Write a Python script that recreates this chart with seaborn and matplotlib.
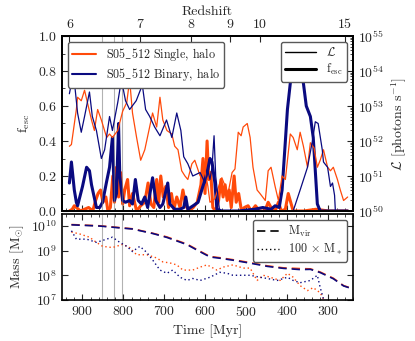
import numpy as np
import matplotlib.pyplot as plt
from matplotlib.lines import Line2D
from matplotlib.ticker import MultipleLocator
import seaborn as sns

sns.set_style("ticks", {"xtick.direction": "in", "ytick.direction": "in"})
plt.rcParams["font.family"] = ["cmr10", "DejaVu Serif"]
plt.rcParams["mathtext.fontset"] = "cm"
plt.rcParams["axes.formatter.use_mathtext"] = True
plt.rcParams["axes.unicode_minus"] = False

# --- data ---
# luminosity, log10 [photons/s]
t_L_bin = [932, 922, 912, 903, 895, 883, 876, 866, 854, 846, 834, 827, 814, 805, 795, 785,
           769, 754, 746, 736, 724, 711, 695, 682, 670, 660, 653, 643, 631, 613, 601, 594,
           589, 584, 579, 575, 568, 560, 540, 500, 450, 400, 386, 369, 351, 339, 332, 325,
           315, 312, 302, 295, 290, 285, 283, 278, 260]
logL_bin = [53.35, 53.95, 52.8, 52.25, 52.7, 53.4, 52.7, 52.3, 51.5, 51.75, 52.7, 52.3, 53.1,
            53.75, 53.15, 52.9, 53.15, 53.6, 52.9, 52.7, 52.4, 52.15, 52.6, 52.1, 52.8, 52.3,
            51.55, 51.35, 51.0, 51.1, 50.8, 51.15, 50.9, 51.25, 52.15, 51.0, 50.25, 49.5, 49.0,
            49.0, 49.0, 49.0, 50.0, 50.6, 51.25, 52.0, 52.55, 52.5, 51.75, 51.4, 51.25, 50.7,
            50.8, 50.45, 50.0, 49.5, 49.0]

t_L_sin = [932, 927, 915, 912, 903, 895, 888, 878, 871, 863, 854, 841, 834, 827, 814, 802,
           792, 785, 778, 768, 758, 748, 738, 729, 719, 711, 704, 694, 682, 675, 667, 658,
           650, 643, 633, 626, 613, 601, 594, 589, 577, 565, 560, 545, 535, 528, 520, 513,
           508, 498, 491, 484, 474, 467, 454, 447, 440, 430, 422, 413, 405, 393, 386, 376,
           369, 361, 351, 344, 335, 327, 320, 312, 302, 295, 288, 278, 271, 263, 253]
logL_sin = [51.85, 51.9, 52.9, 53.25, 53.15, 53.45, 53.1, 52.6, 52.3, 52.9, 52.6, 52.1, 52.2,
            52.1, 52.3, 52.85, 53.1, 53.75, 52.8, 52.1, 51.45, 51.75, 52.3, 52.8, 52.4, 53.25,
            52.6, 52.3, 52.2, 51.85, 51.75, 51.15, 51.0, 50.9, 51.35, 51.45, 51.0, 51.15, 50.7,
            50.25, 50.35, 50.8, 50.95, 50.5, 51.1, 51.2, 52.25, 52.15, 52.4, 52.5, 52.1, 51.25,
            50.6, 50.5, 50.3, 51.15, 51.25, 50.7, 50.3, 51.0, 50.9, 52.2, 52.1, 51.75, 52.25,
            51.85, 51.25, 51.95, 51.8, 51.25, 51.45, 51.75, 51.25, 51.15, 51.25, 50.9, 50.6,
            50.3, 50.4]

# escape fractions
t_f_bin = [932, 927, 920, 915, 912, 900, 890, 883, 878, 866, 858, 851, 841, 834, 827, 822,
           817, 812, 809, 802, 795, 785, 778, 771, 764, 756, 748, 741, 729, 721, 711, 704,
           692, 687, 675, 662, 653, 648, 643, 630, 618, 609, 601, 594, 589, 584, 577, 572,
           560, 540, 520, 500, 480, 460, 440, 430, 420, 413, 405, 400, 393, 386, 376, 369,
           361, 354, 344, 337, 332, 327, 320, 300, 253]
f_bin = [0.16, 0.28, 0.12, 0.05, 0.03, 0.14, 0.25, 0.23, 0.15, 0.02, 0.02, 0.05, 0.17, 0.25,
         0.42, 0.06, 0.10, 0.50, 0.20, 0.06, 0.05, 0.06, 0.04, 0.18, 0.06, 0.04, 0.08, 0.02,
         0.19, 0.06, 0.02, 0.04, 0.16, 0.04, 0.01, 0.01, 0.02, 0.08, 0.01, 0.03, 0.05, 0.12,
         0.18, 0.24, 0.30, 0.28, 0.16, 0.01, 0.0, 0.0, 0.0, 0.005, 0.01, 0.02, 0.01, 0.03,
         0.02, 0.12, 0.40, 0.58, 0.73, 0.79, 0.82, 0.79, 0.73, 0.60, 0.54, 0.42, 0.23, 0.04,
         0.0, 0.0, 0.0]

t_f_sin = [932, 925, 920, 915, 905, 895, 885, 875, 868, 862, 856, 850, 843, 838, 832, 826,
           822, 817, 812, 807, 802, 797, 790, 785, 778, 768, 758, 748, 740, 733, 726, 719,
           714, 709, 703, 697, 690, 683, 677, 670, 662, 655, 648, 640, 630, 620, 611, 606,
           601, 596, 592, 587, 582, 575, 568, 562, 557, 552, 547, 542, 537, 530, 525, 519,
           512, 505, 496, 488, 478, 468, 455, 447, 440, 430, 422, 415, 405, 398, 392, 386,
           360, 330, 300, 253]
f_sin = [0.0, 0.01, 0.03, 0.02, 0.0, 0.01, 0.02, 0.0, 0.06, 0.10, 0.12, 0.05, 0.08, 0.0,
         0.02, 0.20, 0.05, 0.25, 0.08, 0.22, 0.04, 0.12, 0.18, 0.03, 0.10, 0.0, 0.03, 0.05,
         0.16, 0.04, 0.02, 0.18, 0.05, 0.20, 0.08, 0.14, 0.02, 0.10, 0.01, 0.08, 0.02, 0.12,
         0.03, 0.0, 0.02, 0.05, 0.15, 0.30, 0.10, 0.40, 0.18, 0.22, 0.02, 0.0, 0.06, 0.18,
         0.08, 0.15, 0.06, 0.12, 0.02, 0.20, 0.05, 0.10, 0.0, 0.02, 0.03, 0.0, 0.03, 0.0, 0.0,
         0.05, 0.02, 0.0, 0.05, 0.0, 0.01, 0.10, 0.05, 0.0, 0.0, 0.01, 0.0, 0.0]

# masses, log10 [Msun]
t_mvir = [927, 858, 778, 729, 694, 645, 613, 589, 565, 533, 491, 449, 410, 369, 344, 320,
          288, 263, 241]
mvir_sin = [10.05, 10.0, 9.88, 9.7, 9.55, 9.26, 8.97, 8.76, 8.71, 8.63, 8.51, 8.38, 8.3, 8.27,
            8.26, 8.13, 7.88, 7.58, 7.46]
mvir_bin = [10.04, 9.99, 9.87, 9.69, 9.53, 9.24, 8.95, 8.74, 8.69, 8.61, 8.49, 8.36, 8.28,
            8.23, 8.24, 8.11, 7.86, 7.57, 7.45]

t_ms_bin = [927, 915, 890, 866, 841, 827, 809, 792, 778, 760, 743, 729, 711, 694, 680, 662,
            645, 631, 613, 589, 565, 547, 533, 491, 467, 449, 425, 400, 386, 369, 344, 327,
            320, 312, 305]
ms_bin = [9.8, 9.46, 9.46, 9.33, 9.46, 9.54, 9.33, 9.17, 8.96, 9.17, 8.92, 8.62, 8.21, 8.08,
          8.21, 7.92, 7.79, 7.87, 7.79, 7.92, 8.12, 8.08, 8.0, 8.0, 7.92, 7.87, 7.79, 7.92,
          7.79, 7.7, 7.79, 8.0, 7.5, 7.04, 6.8]
t_ms_sin = [927, 907, 883, 866, 851, 827, 802, 785, 768, 743, 719, 704, 687, 670, 655, 631,
            613, 596, 572, 557, 533, 508, 491, 474, 459, 442, 418, 400, 386, 369, 351, 337,
            320, 312, 305]
ms_sin = [9.75, 9.67, 9.54, 9.33, 9.17, 9.12, 9.25, 9.12, 8.83, 8.83, 8.7, 8.54, 8.5, 8.42,
          8.21, 8.21, 8.33, 8.42, 8.21, 8.33, 8.42, 8.29, 8.29, 7.79, 8.0, 7.92, 7.79, 8.08,
          7.92, 7.58, 7.38, 7.5, 7.29, 7.04, 6.8]

vlines_t = [853, 824, 804]
z_labels = ["6", "7", "8", "9", "10", "15"]
z_times = [932, 760, 635, 541, 467, 260]

orange = "#ff4a0a"
navy = "#0a0a80"

fig = plt.figure(figsize=(4.15, 3.41), dpi=100)
ax = fig.add_axes([62 / 415, 130 / 341, 291 / 415, 175 / 341])
axb = fig.add_axes([62 / 415, 41 / 341, 291 / 415, 86 / 341])

# top panel: escape fraction (thick)
sns.lineplot(x=t_f_sin, y=f_sin, ax=ax, color=orange, lw=2.2, sort=False)
sns.lineplot(x=t_f_bin, y=f_bin, ax=ax, color=navy, lw=2.2, sort=False)
ax.set_ylim(0, 1)
ax.set_xlim(950, 240)
ax.yaxis.set_major_locator(MultipleLocator(0.2))
ax.yaxis.set_minor_locator(MultipleLocator(0.1))
ax.xaxis.set_major_locator(MultipleLocator(100))
ax.xaxis.set_minor_locator(MultipleLocator(20))
ax.tick_params(labelbottom=False)
ax.set_ylabel(r"f$_{\rm esc}$", fontsize=10)
ax.set_xlabel("")

# luminosity (thin) on twin axis
axL = ax.twinx()
sns.lineplot(x=t_L_sin, y=10.0 ** np.array(logL_sin), ax=axL, color=orange, lw=0.9, sort=False)
sns.lineplot(x=t_L_bin, y=10.0 ** np.array(logL_bin), ax=axL, color=navy, lw=0.9, sort=False)
axL.set_yscale("log")
axL.set_ylim(1e50, 1e55)
axL.set_ylabel(r"$\mathcal{L}$ [photons s$^{-1}$]", fontsize=10)

# redshift axis on top
axZ = ax.twiny()
axZ.set_xlim(950, 240)
axZ.set_xticks(z_times)
axZ.set_xticklabels(z_labels)
axZ.set_xlabel("Redshift", fontsize=10, labelpad=3)

for t in vlines_t:
    ax.axvline(t, color="gray", lw=0.8, alpha=0.6)
    axb.axvline(t, color="gray", lw=0.8, alpha=0.6)

leg_kw = dict(fontsize=8.7, edgecolor="0.35", framealpha=1, fancybox=True,
              labelspacing=0.25, borderpad=0.35)
h1 = [Line2D([], [], color=orange, lw=1.5), Line2D([], [], color=navy, lw=1.5)]
leg1 = axZ.legend(h1, [r"S05$\_$512 Single, halo", r"S05$\_$512 Binary, halo"],
                  loc="upper left", **leg_kw)
axZ.add_artist(leg1)
h2 = [Line2D([], [], color="k", lw=1), Line2D([], [], color="k", lw=2.2)]
axZ.legend(h2, [r"$\mathcal{L}$", r"f$_{\rm esc}$"], loc="upper right", handlelength=2.6, **leg_kw)

# bottom panel: masses
dash = (0, (5, 3))
dot = (0, (1, 2))
sns.lineplot(x=t_mvir, y=10.0 ** np.array(mvir_sin), ax=axb, color=orange, lw=1.2, linestyle=dash, sort=False)
sns.lineplot(x=t_mvir, y=10.0 ** np.array(mvir_bin), ax=axb, color=navy, lw=1.2, linestyle=dash, sort=False)
sns.lineplot(x=t_ms_sin, y=10.0 ** np.array(ms_sin), ax=axb, color=orange, lw=1.0, linestyle=dot, sort=False)
sns.lineplot(x=t_ms_bin, y=10.0 ** np.array(ms_bin), ax=axb, color=navy, lw=1.0, linestyle=dot, sort=False)
axb.set_yscale("log")
axb.set_ylim(1e7, 3e10)
axb.set_yticks([1e7, 1e8, 1e9, 1e10])
axb.set_xlim(950, 240)
axb.xaxis.set_major_locator(MultipleLocator(100))
axb.xaxis.set_minor_locator(MultipleLocator(20))
axb.set_xlabel("Time [Myr]", fontsize=10)
axb.set_ylabel(r"Mass [M$_{\odot}$]", fontsize=10)
h3 = [Line2D([], [], color="k", lw=1.2, linestyle=dash), Line2D([], [], color="k", lw=1.0, linestyle=dot)]
axb.legend(h3, [r"M$_{\rm vir}$", r"100 $\times$ M$_*$"], loc="upper right", handlelength=1.8, **leg_kw)

for a in (ax, axL, axZ, axb):
    a.tick_params(which="both", direction="in", labelsize=10)
    a.tick_params(which="major", length=4)
    a.tick_params(which="minor", length=2)
    for s in a.spines.values():
        s.set_linewidth(1.2)
        s.set_color("k")
axb.tick_params(which="both", top=True, right=True)
ax.tick_params(which="both", left=True, right=False)

fig.savefig("out.png", dpi=100)
